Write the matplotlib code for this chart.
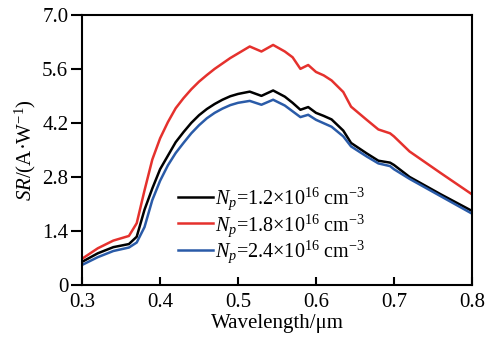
import matplotlib
matplotlib.use("Agg")
import matplotlib.pyplot as plt

plt.rcParams["font.family"] = ["Liberation Serif", "DejaVu Serif"]
plt.rcParams["mathtext.fontset"] = "custom"
plt.rcParams["mathtext.rm"] = "Liberation Serif"
plt.rcParams["mathtext.it"] = "Liberation Serif:italic"

# spectral response
wavelength = [0.30, 0.32, 0.34, 0.36, 0.37, 0.38, 0.39, 0.40, 0.41, 0.42, 0.43,
              0.44, 0.45, 0.46, 0.47, 0.48, 0.49, 0.50, 0.515, 0.53, 0.545, 0.56,
              0.57, 0.58, 0.59, 0.60, 0.61, 0.62, 0.635, 0.645, 0.665, 0.68,
              0.695, 0.70, 0.72, 0.76, 0.80]
sr_12 = [0.60, 0.82, 0.98, 1.06, 1.25, 1.95, 2.50, 3.00, 3.35, 3.70, 3.96,
         4.20, 4.40, 4.56, 4.69, 4.80, 4.89, 4.95, 5.01, 4.90, 5.04, 4.88,
         4.72, 4.54, 4.61, 4.46, 4.38, 4.29, 4.00, 3.68, 3.41, 3.22,
         3.17, 3.11, 2.80, 2.35, 1.92]
sr_18 = [0.68, 0.95, 1.15, 1.27, 1.60, 2.45, 3.25, 3.80, 4.22, 4.58, 4.84,
         5.07, 5.27, 5.44, 5.60, 5.74, 5.88, 6.00, 6.18, 6.05, 6.22, 6.05,
         5.90, 5.60, 5.70, 5.52, 5.43, 5.30, 5.00, 4.62, 4.28, 4.03,
         3.93, 3.85, 3.46, 2.90, 2.35]
sr_24 = [0.52, 0.72, 0.88, 0.97, 1.10, 1.50, 2.20, 2.70, 3.10, 3.42, 3.68,
         3.93, 4.14, 4.32, 4.46, 4.57, 4.66, 4.72, 4.77, 4.67, 4.80, 4.65,
         4.50, 4.35, 4.41, 4.28, 4.19, 4.10, 3.85, 3.59, 3.33, 3.15,
         3.08, 3.00, 2.75, 2.30, 1.85]

labels = [r"$N_p$=1.2×10$^{16}$ cm$^{-3}$",
          r"$N_p$=1.8×10$^{16}$ cm$^{-3}$",
          r"$N_p$=2.4×10$^{16}$ cm$^{-3}$"]
colors = ["black", "#e5312d", "#2a5ba8"]

xticks = [0.3, 0.4, 0.5, 0.6, 0.7, 0.8]
yticks = [0, 1.4, 2.8, 4.2, 5.6, 7.0]
ytick_labels = ["0", "1.4", "2.8", "4.2", "5.6", "7.0"]

fig = plt.figure(figsize=(4.89, 3.45), dpi=100)
ax = fig.add_axes([0.168, 0.174, 0.797, 0.783])

for ys, lab, c in zip([sr_12, sr_18, sr_24], labels, colors):
    ax.plot(wavelength, ys, color=c, linewidth=1.8, label=lab)

ax.set_xlim(0.3, 0.8)
ax.set_ylim(0, 7.0)
ax.set_xticks(xticks)
ax.set_xticklabels([str(t) for t in xticks])
ax.set_yticks(yticks)
ax.set_yticklabels(ytick_labels)
ax.tick_params(axis="x", direction="in", length=6, width=1.5, labelsize=15, pad=6)
ax.tick_params(axis="y", direction="out", length=8, width=1.5, labelsize=15, pad=2)
for s in ax.spines.values():
    s.set_linewidth(1.5)

ax.set_xlabel("Wavelength/μm", fontsize=15, labelpad=1)
ax.set_ylabel(r"$SR$/(A·W$^{-1}$)", fontsize=15, labelpad=3)

ax.legend(loc="lower left", bbox_to_anchor=(0.22, 0.035), frameon=False, fontsize=14.5,
          handlelength=1.75, handletextpad=0.1, labelspacing=0.0, borderpad=0)

fig.savefig("out.png", dpi=100)
